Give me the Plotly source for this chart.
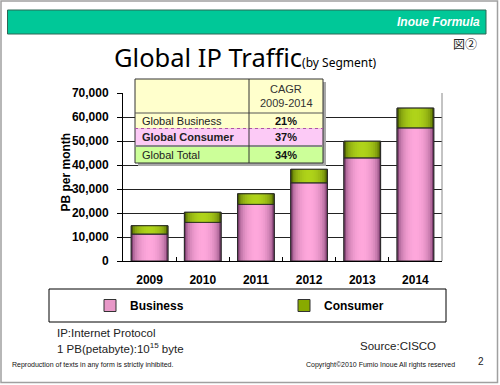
import plotly.graph_objects as go

# ---------------- data ----------------
years = ["2009", "2010", "2011", "2012", "2013", "2014"]
business = [11250, 16100, 23600, 32600, 43000, 55500]
consumer = [3450, 4200, 4400, 5600, 6900, 8200]
y_tick_vals = [0, 10000, 20000, 30000, 40000, 50000, 60000, 70000]
y_tick_text = ["0", "10,000", "20,000", "30,000", "40,000", "50,000", "60,000", "70,000"]

table_header = ["CAGR", "2009-2014"]
table_rows = ["Global Business", "Global Consumer", "Global Total"]
table_cagr = ["21%", "37%", "34%"]

# ---------------- geometry helpers ----------------
W_PX, H_PX = 500, 385
L, R, T, B = 123, 58, 93, 124
PW, PH = W_PX - L - R, H_PX - T - B


def px(x):
    return (x - L) / PW


def py(y):
    return (H_PX - B - y) / PH


def hex2rgb(h):
    h = h.lstrip("#")
    return tuple(int(h[i:i + 2], 16) for i in (0, 2, 4))


def mix(c1, c2, t):
    a, b = hex2rgb(c1), hex2rgb(c2)
    return "rgb(%d,%d,%d)" % tuple(round(a[i] + (b[i] - a[i]) * t) for i in range(3))


fig = go.Figure()

BAR_W = 0.69
N_LAYERS = 10
segments = [
    ("Business", business, None, "#7e3f70", "#ffa8dc", "#e898c8"),
    ("Consumer", consumer, business, "#4a5e00", "#b0d41a", "#88aa00"),
]
for name, vals, base, edge, center, legcol in segments:
    # legend carrier (covered by the gradient layers)
    fig.add_trace(go.Bar(x=years, y=vals, base=base, width=BAR_W, name=name,
                         marker=dict(color=legcol, line=dict(color="#333333", width=1)),
                         hovertemplate=name + " %{x}: %{y:,}<extra></extra>"))
    for k in range(N_LAYERS):
        r = 1 - k / N_LAYERS
        t = (1 - r * r) ** 0.5
        fig.add_trace(go.Bar(x=years, y=vals, base=base, width=BAR_W * r,
                             marker=dict(color=mix(edge, center, t), line=dict(width=0)),
                             showlegend=False, hoverinfo="skip"))
    fig.add_trace(go.Bar(x=years, y=vals, base=base, width=BAR_W,
                         marker=dict(color="rgba(0,0,0,0)", line=dict(color="#2a2a2a", width=1)),
                         showlegend=False, hoverinfo="skip"))

AX_FONT = dict(family="Liberation Sans", size=12, color="#000000", weight="bold")

fig.update_layout(
    width=W_PX, height=H_PX,
    margin=dict(l=L, r=R, t=T, b=B, pad=0),
    barmode="overlay",
    paper_bgcolor="white", plot_bgcolor="white",
    showlegend=True,
    legend=dict(orientation="h", x=px(90), xanchor="left", y=py(305.5), yanchor="middle",
                font=AX_FONT, entrywidth=149, bgcolor="rgba(0,0,0,0)", borderwidth=0,
                traceorder="normal"),
    xaxis=dict(type="category", showline=True, linecolor="#000000", linewidth=1,
               ticks="inside", ticklen=4, tickcolor="#000000", tickson="boundaries",
               tickfont=AX_FONT, ticklabelstandoff=8, showgrid=False, fixedrange=True),
    yaxis=dict(range=[0, 70000], tickvals=y_tick_vals, ticktext=y_tick_text,
               showline=True, linecolor="#000000", linewidth=1,
               ticks="outside", ticklen=5, tickcolor="#000000",
               showgrid=True, gridcolor="#222222", gridwidth=1,
               tickfont=AX_FONT, ticklabelstandoff=6, zeroline=False, fixedrange=True),
)

shapes = []
annots = []

# outer frame
shapes.append(dict(type="rect", xref="paper", yref="paper", x0=px(1), x1=px(497.5), y0=py(1), y1=py(382.5),
                   line=dict(color="#a0a0a0", width=1.5), fillcolor="rgba(0,0,0,0)", layer="below"))
# header bar
shapes.append(dict(type="rect", xref="paper", yref="paper", x0=px(7.5), x1=px(486), y0=py(10), y1=py(34),
                   line=dict(color="#2e6655", width=1), fillcolor="#00c898", layer="below"))
annots.append(dict(text="Inoue Formula", x=px(482), y=py(22), xanchor="right", yanchor="middle",
                   font=dict(family="Liberation Sans", size=12, color="white", weight="bold", style="italic")))
annots.append(dict(text="図②", x=px(479), y=py(44), xanchor="right", yanchor="middle",
                   font=dict(family="Noto Sans CJK JP", size=12, color="#222222")))
# title
annots.append(dict(text="Global IP Traffic<span style='font-size:12px'>(by Segment)</span>",
                   x=px(112), y=py(57), xanchor="left", yanchor="middle",
                   font=dict(family="Noto Sans", size=25.5, color="#000000")))
# right border of plot
shapes.append(dict(type="line", xref="paper", yref="paper", x0=1, x1=1, y0=0, y1=1,
                   line=dict(color="#888888", width=1)))
# y title
annots.append(dict(text="PB per month", x=px(65), y=py(172.5), xanchor="center", yanchor="middle",
                   textangle=-90, font=dict(family="Liberation Sans", size=12, color="#000000", weight="bold")))

# ---- CAGR table ----
tx0, tx1, tcol = 135, 323, 249
rows_y = [79, 113, 128.5, 146, 163]
row_fill = ["#ffffcc", "#ffffcc", "#fccaf6", "#ccff99"]
# shadow
shapes.append(dict(type="rect", xref="paper", yref="paper", x0=px(tx0 + 3), x1=px(tx1 + 3), y0=py(rows_y[-1] + 3), y1=py(rows_y[0] + 3),
                   line=dict(width=0), fillcolor="#a8a8a8", layer="above"))
for i in range(4):
    shapes.append(dict(type="rect", xref="paper", yref="paper", x0=px(tx0), x1=px(tx1),
                       y0=py(rows_y[i + 1]), y1=py(rows_y[i]), line=dict(width=0),
                       fillcolor=row_fill[i], layer="above"))
shapes.append(dict(type="rect", xref="paper", yref="paper", x0=px(tx0), x1=px(tx1), y0=py(rows_y[-1]), y1=py(rows_y[0]),
                   line=dict(color="#333333", width=1), fillcolor="rgba(0,0,0,0)", layer="above"))
shapes.append(dict(type="line", xref="paper", yref="paper", x0=px(tx0), x1=px(tx1), y0=py(rows_y[1]), y1=py(rows_y[1]),
                   line=dict(color="#555555", width=1), layer="above"))
shapes.append(dict(type="line", xref="paper", yref="paper", x0=px(tx0), x1=px(tx1), y0=py(rows_y[2]), y1=py(rows_y[2]),
                   line=dict(color="#b050a8", width=1, dash="dot"), layer="above"))
shapes.append(dict(type="line", xref="paper", yref="paper", x0=px(tx0), x1=px(tx1), y0=py(rows_y[3]), y1=py(rows_y[3]),
                   line=dict(color="#888888", width=2), layer="above"))
shapes.append(dict(type="line", xref="paper", yref="paper", x0=px(tcol), x1=px(tcol), y0=py(rows_y[-1]), y1=py(rows_y[0]),
                   line=dict(color="#333333", width=1), layer="above"))

TF = "Liberation Sans"
annots.append(dict(text=table_header[0], x=px((tcol + tx1) / 2), y=py(89), xanchor="center", yanchor="middle",
                   font=dict(family=TF, size=11, color="#333333")))
annots.append(dict(text=table_header[1], x=px((tcol + tx1) / 2), y=py(103), xanchor="center", yanchor="middle",
                   font=dict(family=TF, size=11, color="#333333")))
for i, (lab, val) in enumerate(zip(table_rows, table_cagr)):
    yc = (rows_y[i + 1] + rows_y[i + 2]) / 2
    annots.append(dict(text=lab, x=px(140), y=py(yc), xanchor="left", yanchor="middle",
                       font=dict(family=TF, size=11, color="#222222", weight="bold" if i == 1 else "normal")))
    annots.append(dict(text=val, x=px((tcol + tx1) / 2), y=py(yc), xanchor="center", yanchor="middle",
                       font=dict(family=TF, size=11, color="#111111", weight="bold")))

# legend frame
shapes.append(dict(type="rect", xref="paper", yref="paper", x0=px(49), x1=px(446), y0=py(322), y1=py(289),
                   line=dict(color="#000000", width=1), fillcolor="rgba(0,0,0,0)"))

# footnotes
NF = dict(family="Liberation Sans", size=11.5, color="#222222")
annots.append(dict(text="IP:Internet Protocol", x=px(55), y=py(333), xanchor="left", yanchor="middle", font=NF))
annots.append(dict(text="1 PB(petabyte):10<sup>15</sup> byte", x=px(55), y=py(348), xanchor="left", yanchor="middle", font=NF))
annots.append(dict(text="Source:CISCO", x=px(358), y=py(346), xanchor="left", yanchor="middle", font=NF))
annots.append(dict(text="Reproduction of texts in any form is strictly inhibited.", x=px(10), y=py(365),
                   xanchor="left", yanchor="middle", font=dict(family="Liberation Sans", size=7, color="#111111")))
annots.append(dict(text="Copyright©2010 Fumio Inoue All rights reserved", x=px(304), y=py(365),
                   xanchor="left", yanchor="middle", font=dict(family="Liberation Sans", size=7, color="#111111")))
annots.append(dict(text="2", x=px(481), y=py(361), xanchor="center", yanchor="middle",
                   font=dict(family="Liberation Sans", size=10, color="#222222")))

for a in annots:
    a.setdefault("xref", "paper")
    a.setdefault("yref", "paper")
    a.setdefault("showarrow", False)

fig.update_layout(shapes=shapes, annotations=annots)
fig.write_html("out.html", config={"displayModeBar": False},
               post_script="document.body.style.margin='0';document.body.style.overflow='hidden';")
